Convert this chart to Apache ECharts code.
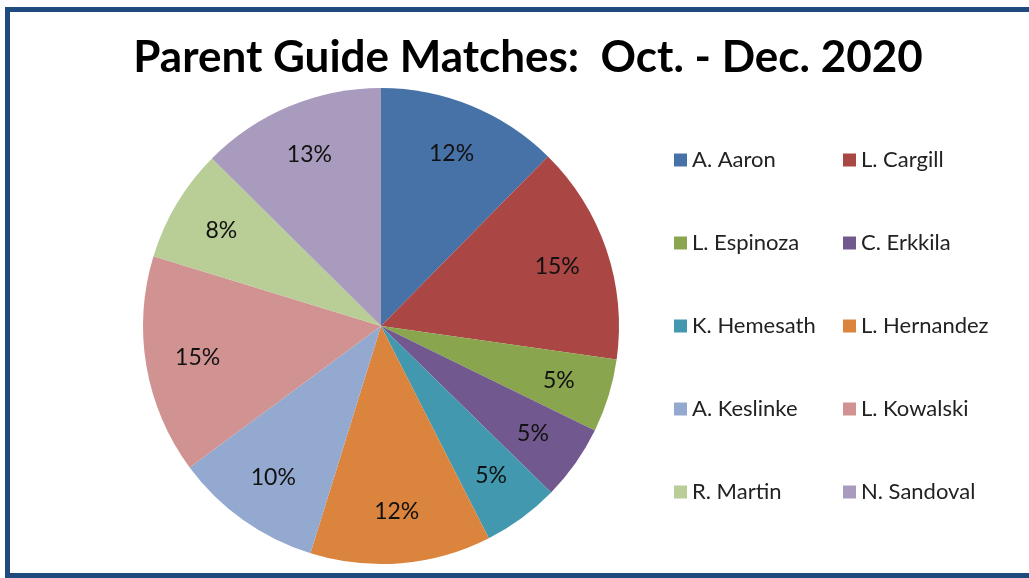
<!DOCTYPE html>
<html>
<head>
<meta charset="utf-8">
<script src="https://cdn.jsdelivr.net/npm/echarts@6/dist/echarts.min.js"></script>
<style>
  html, body { margin: 0; padding: 0; background: #fff; }
  #chart { width: 1029px; height: 578px; }
</style>
</head>
<body>
<div id="chart"></div>
<script>
// guides and their share of the matches
const names = ['A. Aaron', 'L. Cargill', 'L. Espinoza', 'C. Erkkila', 'K. Hemesath',
  'L. Hernandez', 'A. Keslinke', 'L. Kowalski', 'R. Martin', 'N. Sandoval']
const values = [12.4, 14.9, 5.0, 5.1, 5.2, 12.3, 10.1, 14.9, 7.7, 12.6]
const colors = ['#4672A8', '#AA4643', '#89A54E', '#71588F', '#4198AF',
  '#DB843D', '#93A9CF', '#D19392', '#B9CD96', '#A99BBD']

const font = 'Lato, "Open Sans", sans-serif'
const pieData = names.map((n, i) => ({ name: n, value: values[i] }))

const chart = echarts.init(document.getElementById('chart'))

const legendBase = {
  orient: 'vertical',
  top: 144,
  itemGap: 61,
  itemWidth: 13,
  itemHeight: 13,
  icon: 'rect',
  textStyle: { fontFamily: font, fontSize: 22, color: '#222' }
}

chart.setOption({
  color: colors,
  title: {
    text: 'Parent Guide Matches:  Oct. - Dec. 2020',
    left: 523,
    textAlign: 'center',
    top: 31,
    textStyle: { fontFamily: font, fontSize: 44, fontWeight: 'bold', color: '#000' }
  },
  legend: [
    Object.assign({}, legendBase, { left: 669, data: names.filter((_, i) => i % 2 === 0) }),
    Object.assign({}, legendBase, { left: 838, data: names.filter((_, i) => i % 2 === 1) })
  ],
  graphic: [{
    type: 'rect',
    shape: { x: 7.5, y: 9.5, width: 1040, height: 566 },
    style: { fill: 'none', stroke: '#1F4A7E', lineWidth: 5 },
    silent: true
  }],
  series: [
    {
      type: 'pie',
      center: [381, 326],
      radius: [0, 238],
      startAngle: 90,
      clockwise: true,
      label: { show: false },
      labelLine: { show: false },
      emphasis: { disabled: true },
      data: pieData
    },
    {
      // label ring: puts the percentages further out than the default inside position
      type: 'pie',
      center: [381, 326],
      radius: [128, 238],
      startAngle: 90,
      clockwise: true,
      silent: true,
      itemStyle: { color: 'transparent' },
      label: {
        show: true,
        position: 'inside',
        formatter: p => Math.round(p.percent) + '%',
        fontFamily: font,
        fontSize: 23,
        color: '#111'
      },
      labelLine: { show: false },
      emphasis: { disabled: true },
      data: pieData
    }
  ]
})
</script>
</body>
</html>
